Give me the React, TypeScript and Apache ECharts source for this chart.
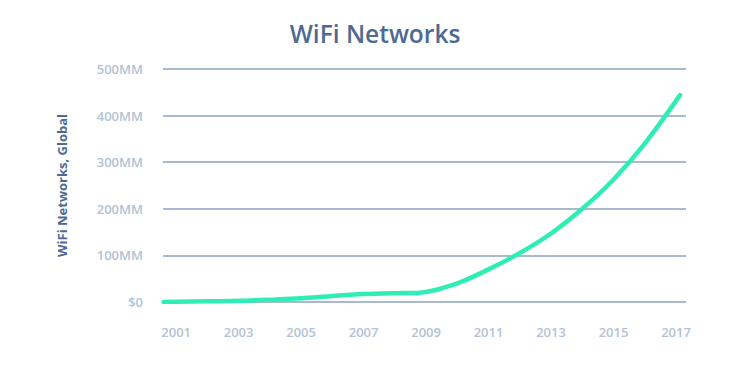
import React, { useEffect, useRef } from "react";
import * as echarts from "echarts";

const years = [2000.6, 2001, 2002, 2003, 2004, 2005, 2006, 2007, 2008, 2008.8, 2010, 2011, 2012, 2013, 2014, 2015, 2016, 2017.13];
const networksMM = [0, 0.5, 1.5, 2.5, 5, 8, 13, 17, 19, 20, 40, 70, 105, 147, 200, 263, 340, 444];
const xTickLabels = [2001, 2003, 2005, 2007, 2009, 2011, 2013, 2015, 2017];
const yTicks = [0, 100, 200, 300, 400, 500];

const TITLE = "WiFi Networks";
const Y_NAME = "WiFi Networks, Global";

export default function App() {
  const ref = useRef<HTMLDivElement>(null);
  useEffect(() => {
    if (!ref.current) return;
    const chart = echarts.init(ref.current, undefined, { renderer: "svg" });
    const labelColor = "#b3c2d6";
    const font = "'Open Sans', sans-serif";
    chart.setOption({
      animation: false,
      backgroundColor: "#ffffff",
      title: {
        text: TITLE,
        left: "center",
        top: 16,
        textStyle: { color: "#4e6a92", fontSize: 24.5, fontWeight: 600, fontFamily: font },
      },
      grid: { left: 163, right: 64, top: 69, bottom: 74, containLabel: false },
      xAxis: {
        type: "value",
        min: 2000.58,
        max: 2017.32,
        axisLine: { show: false },
        axisTick: { show: false },
        splitLine: { show: false },
        axisLabel: {
          customValues: xTickLabels,
          formatter: (v: number) => String(Math.round(v)),
          color: labelColor,
          fontSize: 13,
          fontWeight: 600,
          fontFamily: font,
          margin: 23,
        },
      },
      yAxis: {
        type: "value",
        min: yTicks[0],
        max: yTicks[yTicks.length - 1],
        interval: 100,
        name: Y_NAME,
        nameLocation: "middle",
        nameGap: 95,
        nameTextStyle: { color: "#4e6a92", fontSize: 13, fontWeight: 700, fontFamily: font },
        axisLine: { show: false },
        axisTick: { show: false },
        splitLine: { lineStyle: { color: "#a9b9cf", width: 2 } },
        axisLabel: {
          formatter: (v: number) => (v === 0 ? "$0" : `${v}MM`),
          color: labelColor,
          fontSize: 13,
          fontWeight: 600,
          fontFamily: font,
          margin: 20,
        },
      },
      series: [
        {
          type: "line",
          data: years.map((y, i) => [y, networksMM[i]]),
          smooth: 0.3,
          showSymbol: false,
          lineStyle: { color: "#2eeeb6", width: 4.5, cap: "round" },
        },
      ],
    });
    return () => chart.dispose();
  }, []);
  return (
    <div
      ref={ref}
      style={{ position: "fixed", left: 0, top: 0, width: 750, height: 376, background: "#fff" }}
    />
  );
}
